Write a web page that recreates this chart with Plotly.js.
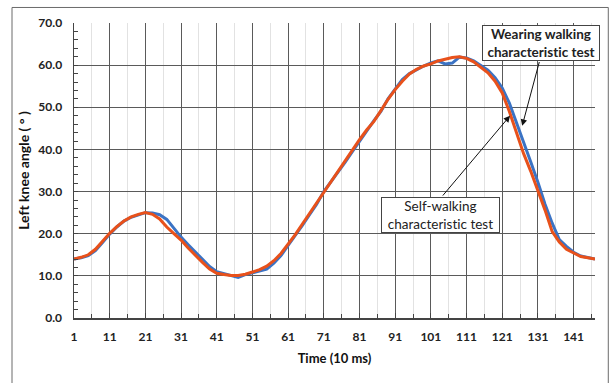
<!DOCTYPE html>
<html>
<head>
<meta charset="utf-8">
<script src="https://cdn.plot.ly/plotly-3.0.1.min.js"></script>
<style>html,body{margin:0;padding:0;background:#fff;}#chart{width:612px;height:383px;}
#chart text{font-variant-ligatures:none;font-feature-settings:"liga" 0;}</style>
</head>
<body>
<div id="chart"></div>
<script>
// Time index (10 ms), sampled every 2 steps
var timeIdx = [1,3,5,7,9,11,13,15,17,19,21,23,25,27,29,31,33,35,37,39,41,43,45,47,49,51,53,55,57,59,61,63,65,67,69,71,73,75,77,79,81,83,85,87,89,91,93,95,97,99,101,103,105,107,109,111,113,115,117,119,121,123,125,127,129,131,133,135,137,139,141,143,145,147];

// Wearing walking characteristic test (blue)
var wearing = [14.0,14.3,14.8,16.0,17.9,19.9,21.6,23.0,23.9,24.5,25.0,24.9,24.5,23.4,21.2,19.2,17.4,15.6,13.8,12.2,11.0,10.5,10.0,9.6,10.3,10.7,11.1,11.6,13.0,14.8,17.2,19.5,22.0,24.5,27.0,30.0,32.3,34.8,37.0,39.5,42.0,44.2,46.8,49.0,52.0,54.3,56.6,58.0,59.0,59.8,60.5,61.0,60.3,60.5,61.9,61.7,61.0,60.0,58.8,57.0,54.6,51.0,46.5,41.5,37.0,32.2,27.0,22.5,18.6,17.0,15.6,14.7,14.3,14.0];

// Self-walking characteristic test (orange)
var selfWalking = [14.0,14.4,15.0,16.3,18.2,20.1,21.7,23.0,24.0,24.6,25.0,24.6,23.5,21.6,20.0,18.5,16.6,14.8,13.2,11.6,10.6,10.3,10.1,10.1,10.4,10.9,11.5,12.3,13.6,15.3,17.5,19.8,22.3,24.8,27.3,29.9,32.6,35.0,37.3,39.8,42.3,44.6,46.6,49.2,51.9,54.2,56.2,57.9,59.0,59.8,60.3,61.0,61.4,61.8,62.0,61.6,60.8,59.6,58.2,56.2,53.4,49.0,44.0,39.0,34.8,30.4,25.6,20.5,18.0,16.3,15.4,14.6,14.3,14.0];

var xTickVals = [1,11,21,31,41,51,61,71,81,91,101,111,121,131,141];
var yTickVals = [0,10,20,30,40,50,60,70];

var tickFont = {family: 'Lato, "Liberation Sans", sans-serif', size: 12, color: '#222', weight: 700};
var xTitleFont = {family: 'Lato, "Liberation Sans", sans-serif', size: 13, color: '#111', weight: 700};
var yTitleFont = {family: 'Lato, "Liberation Sans", sans-serif', size: 14, color: '#111', weight: 700};
var annFont = {family: 'Lato, "Liberation Sans", sans-serif', size: 13.5, color: '#222'};

var traces = [
  {x: timeIdx, y: wearing, type: 'scatter', mode: 'lines', name: 'Wearing walking characteristic test',
   line: {color: '#3B73C4', width: 3}},
  {x: timeIdx, y: selfWalking, type: 'scatter', mode: 'lines', name: 'Self-walking characteristic test',
   line: {color: '#E8511B', width: 3}}
];

var layout = {
  width: 612, height: 383,
  margin: {l: 74, r: 17, t: 23, b: 65},
  paper_bgcolor: '#fff', plot_bgcolor: '#fff',
  showlegend: false,
  xaxis: {
    range: [1, 147], tickmode: 'array', tickvals: xTickVals, ticktext: xTickVals.map(String),
    showgrid: true, gridcolor: '#5a5a5a', gridwidth: 1,
    ticks: 'inside', ticklen: 5, tickcolor: '#444',
    showline: true, linecolor: '#444', linewidth: 1.5,
    zeroline: false, tickfont: tickFont, ticklabelstandoff: 7,
    minor: {dtick: 5, tick0: 1, showgrid: true, gridcolor: '#e2e2e2', gridwidth: 1, ticks: 'inside', ticklen: 4, tickcolor: '#444'},
    title: {text: 'Time (10 ms)', font: xTitleFont, standoff: 11}
  },
  yaxis: {
    range: [0, 70], tickmode: 'array', tickvals: yTickVals, ticktext: yTickVals.map(function(v){return v.toFixed(1);}),
    showgrid: true, gridcolor: '#5a5a5a', gridwidth: 1,
    ticks: 'inside', ticklen: 4, tickcolor: '#444',
    showline: true, linecolor: '#444', linewidth: 1.5,
    zeroline: false, tickfont: tickFont, ticklabelstandoff: 8,
    minor: {dtick: 2, tick0: 0, showgrid: false, ticks: 'inside', ticklen: 4, tickcolor: '#444'},
    title: {text: 'Left knee angle ( ° )', font: yTitleFont, standoff: 5}
  },
  shapes: [
    {type: 'rect', xref: 'paper', yref: 'paper', x0: -0.119, x1: 1.0255, y0: -0.3, y1: 1.0526,
     line: {color: '#6a6a6a', width: 1}, fillcolor: 'rgba(0,0,0,0)', layer: 'below'}
  ],
  annotations: [
    {x: 131.8, y: 65.3, xref: 'x', yref: 'y', text: '<b>Wearing walking</b><br><b>characteristic test</b>', showarrow: false,
     font: annFont, bgcolor: '#fff', bordercolor: '#444', borderwidth: 1, borderpad: 1, width: 114, height: 32},
    {x: 126.6, y: 45.6, xref: 'x', yref: 'y', ax: 131.5, ay: 61.1, axref: 'x', ayref: 'y', text: '',
     showarrow: true, arrowhead: 2, arrowsize: 1.3, arrowwidth: 1, arrowcolor: '#111'},
    {x: 103.8, y: 24.5, xref: 'x', yref: 'y', text: 'Self-walking<br>characteristic test', showarrow: false,
     font: annFont, bgcolor: '#fff', bordercolor: '#444', borderwidth: 1, borderpad: 1, width: 115, height: 32},
    {x: 123.2, y: 48.0, xref: 'x', yref: 'y', ax: 104.0, ay: 28.7, axref: 'x', ayref: 'y', text: '',
     showarrow: true, arrowhead: 2, arrowsize: 1.3, arrowwidth: 1, arrowcolor: '#111'}
  ]
};

Plotly.newPlot('chart', traces, layout, {displayModeBar: false, staticPlot: true});
</script>
</body>
</html>
